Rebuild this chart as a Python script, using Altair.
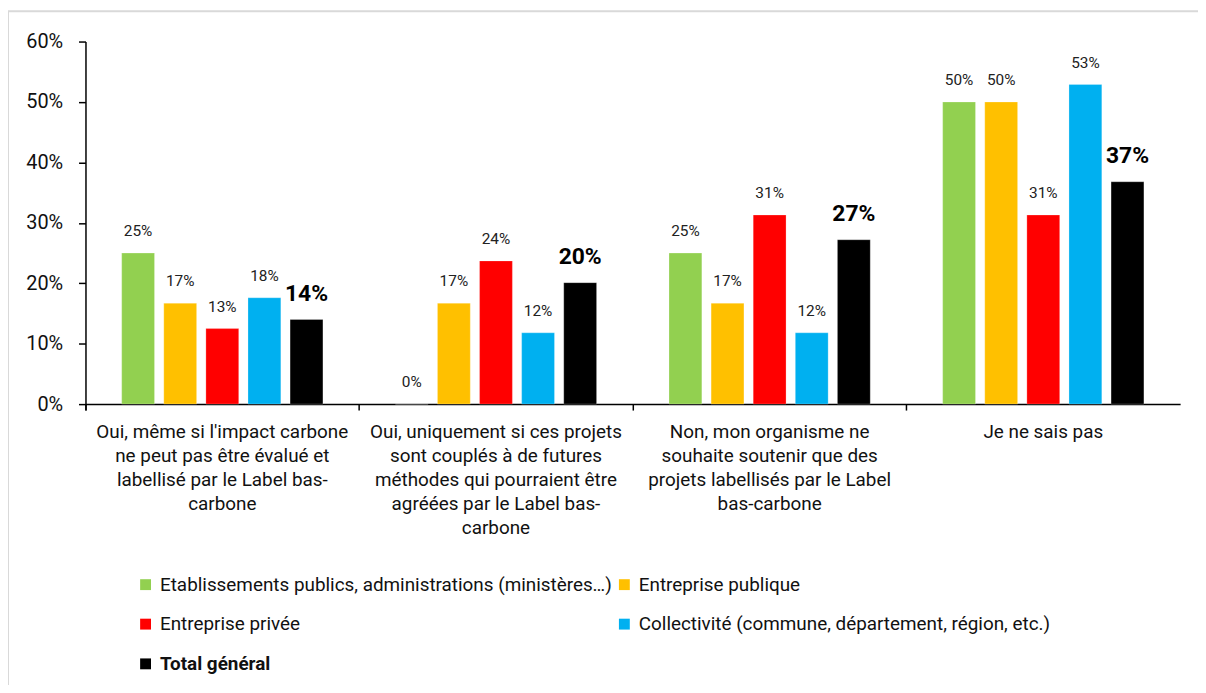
import altair as alt
import pandas as pd

# ---------------- data ----------------
CATEGORIES = [
    "Oui, même si l'impact carbone\nne peut pas être évalué et\nlabellisé par le Label bas-\ncarbone",
    "Oui, uniquement si ces projets\nsont couplés à de futures\nméthodes qui pourraient être\nagréées par le Label bas-\ncarbone",
    "Non, mon organisme ne\nsouhaite soutenir que des\nprojets labellisés par le Label\nbas-carbone",
    "Je ne sais pas",
]
SERIES = [
    "Etablissements publics, administrations (ministères…)",
    "Entreprise publique",
    "Entreprise privée",
    "Collectivité (commune, département, région, etc.)",
    "Total général",
]
COLORS = ["#92D050", "#FFC000", "#FF0000", "#00B0F0", "#000000"]

ETABLISSEMENTS = [0.250, 0.000, 0.250, 0.500]
ENTREPRISE_PUBLIQUE = [0.167, 0.167, 0.167, 0.500]
ENTREPRISE_PRIVEE = [0.125, 0.237, 0.313, 0.313]
COLLECTIVITE = [0.176, 0.118, 0.118, 0.529]
TOTAL = [0.140, 0.201, 0.272, 0.368]

SERIES_VALUES = [ETABLISSEMENTS, ENTREPRISE_PUBLIQUE, ENTREPRISE_PRIVEE, COLLECTIVITE, TOTAL]

rows = []
for s, vals in zip(SERIES, SERIES_VALUES):
    for c, v in zip(CATEGORIES, vals):
        rows.append({"categorie": c, "serie": s, "valeur": v})
df = pd.DataFrame(rows)

FONT = "Roboto"
TOTAL_NAME = SERIES[-1]

x_enc = alt.X(
    "categorie:N",
    sort=CATEGORIES,
    scale=alt.Scale(paddingInner=0, paddingOuter=0),
    axis=alt.Axis(
        title=None,
        labelAngle=0,
        bandPosition=0,
        tickExtra=True,
        tickSize=6,
        tickColor="#000000",
        domainColor="#000000",
        domainWidth=1.5,
        tickWidth=1.5,
        labelFontSize=19,
        labelLineHeight=24,
        labelPadding=13,
        labelLimit=400,
        labelColor="#111111",
        labelExpr="split(datum.label, '\\n')",
    ),
)
xoff = alt.XOffset(
    "serie:N",
    sort=SERIES,
    scale=alt.Scale(domain=SERIES, paddingInner=0.22, paddingOuter=0.86),
)
y_enc = alt.Y(
    "valeur:Q",
    scale=alt.Scale(domain=[0, 0.6], nice=False),
    axis=alt.Axis(
        title=None,
        values=[0, 0.1, 0.2, 0.3, 0.4, 0.5, 0.6],
        format=".0%",
        grid=False,
        tickSize=7,
        tickColor="#000000",
        tickWidth=1.5,
        domainColor="#000000",
        domainWidth=1.5,
        labelFontSize=20,
        labelPadding=16,
        labelColor="#111111",
    ),
)

base = alt.Chart(df)

bars = base.mark_bar(stroke="#ffffff", strokeOpacity=0.5, strokeWidth=0.5).encode(
    x=x_enc,
    xOffset=xoff,
    y=y_enc,
    color=alt.Color(
        "serie:N",
        sort=SERIES,
        scale=alt.Scale(domain=SERIES, range=COLORS),
        legend=alt.Legend(
            title=None,
            orient="none",
            direction="horizontal",
            legendX=51,
            legendY=537,
            columns=2,
            columnPadding=2,
            rowPadding=20,
            symbolType="square",
            symbolSize=120,
            symbolStrokeWidth=0,
            labelOffset=5,
            labelFontSize=19,
            labelColor="#111111",
            labelLimit=600,
            labelFontWeight=alt.ExprRef(
                expr="datum.label === 'Total général' ? 'bold' : 'normal'"
            ),
            padding=0,
        ),
    ),
)

labels = base.transform_filter(alt.datum.serie != TOTAL_NAME).mark_text(
    baseline="middle", dy=-22, fontSize=15.5, color="#222222", font=FONT
).encode(
    x=alt.X("categorie:N", sort=CATEGORIES),
    xOffset=xoff,
    y="valeur:Q",
    text=alt.Text("valeur:Q", format=".0%"),
)

total_labels = base.transform_filter(alt.datum.serie == TOTAL_NAME).mark_text(
    baseline="middle", dy=-26, fontSize=23, fontWeight="bold", color="#000000", font=FONT
).encode(
    x=alt.X("categorie:N", sort=CATEGORIES),
    xOffset=xoff,
    y="valeur:Q",
    text=alt.Text("valeur:Q", format=".0%"),
)

frame = alt.Chart(pd.DataFrame({"f": [0]})).mark_rect(
    fill=None, stroke="#d9d9d9", strokeWidth=2, clip=False
).encode(
    x=alt.value(-78),
    x2=alt.value(1150),
    y=alt.value(-30.5),
    y2=alt.value(700),
)

chart = (
    alt.layer(frame, bars, labels, total_labels)
    .properties(
        width=1102,
        height=365,
        autosize=alt.AutoSizeParams(type="none"),
        padding={"left": 78, "top": 31.5, "right": 18, "bottom": 280},
    )
    .configure(font=FONT)
    .configure_view(stroke=None)
)

chart.save("out.html", embed_options={"renderer": "svg", "actions": False})
